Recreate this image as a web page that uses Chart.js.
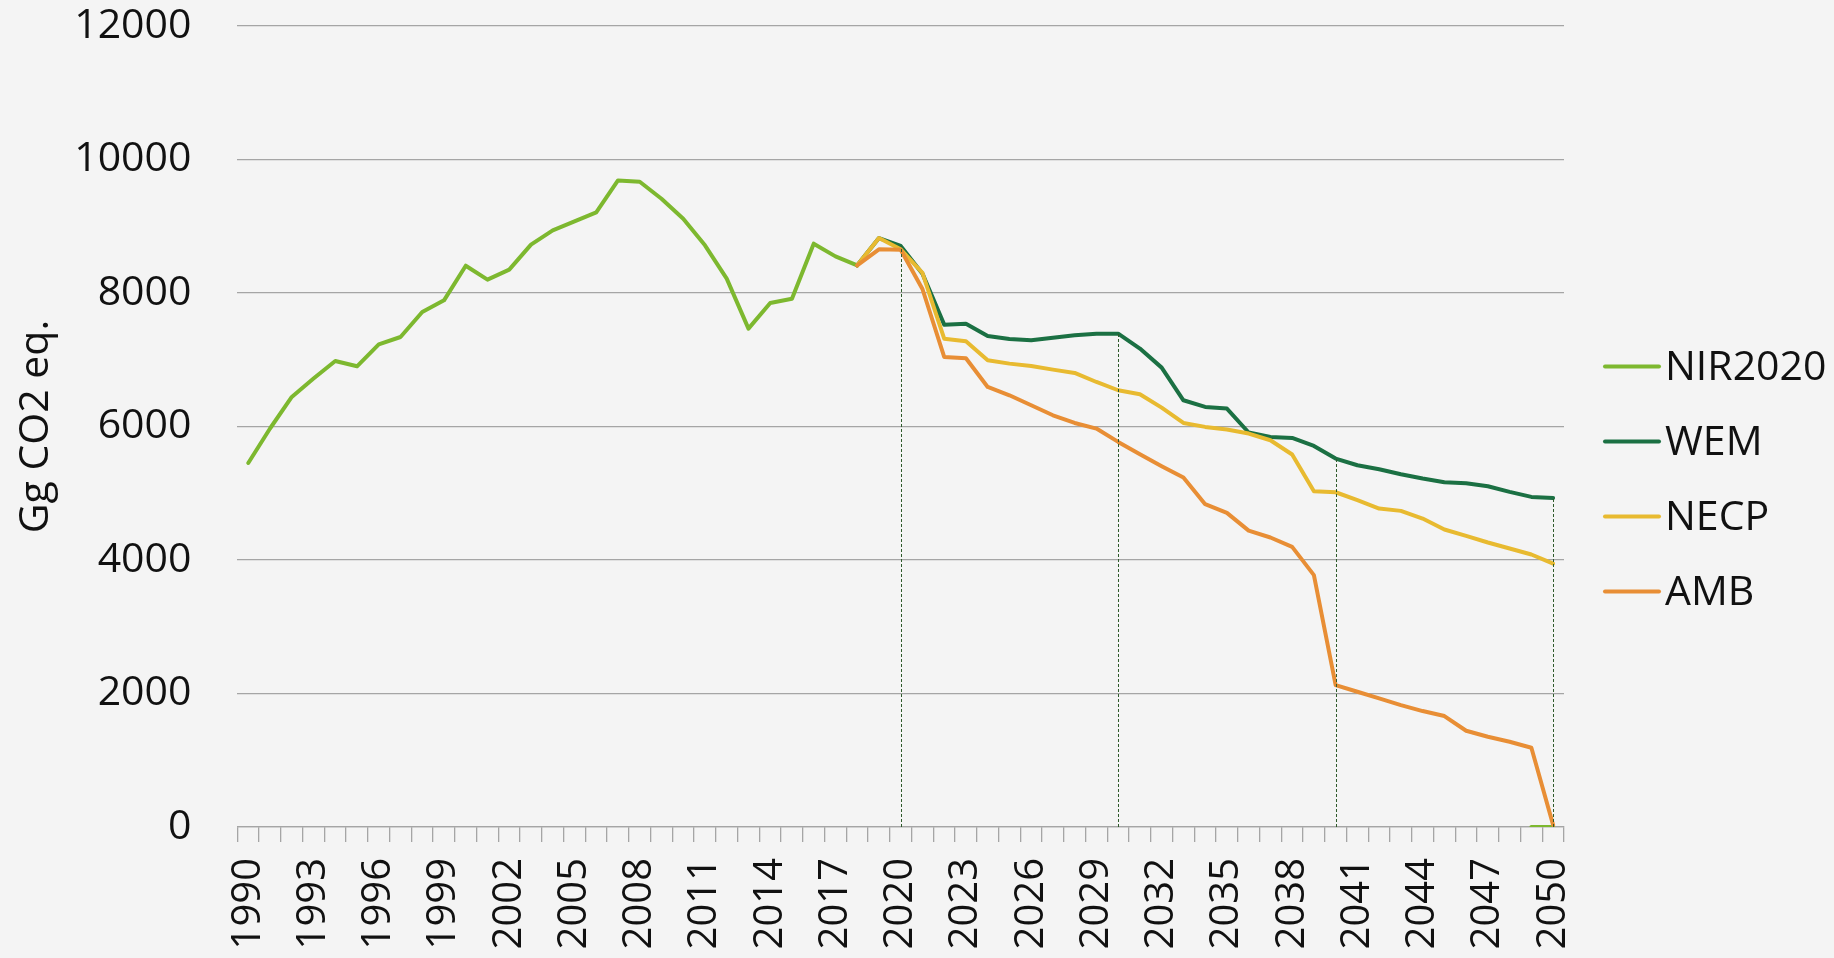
<!DOCTYPE html>
<html>
<head>
<meta charset="utf-8">
<script src="https://cdn.jsdelivr.net/npm/chart.js@4/dist/chart.umd.min.js"></script>
<style>
  html, body { margin: 0; padding: 0; background: #F4F4F4; }
  #wrap { width: 1834px; height: 958px; position: relative; }
</style>
</head>
<body>
<div id="wrap"><canvas id="c" width="1834" height="958"></canvas></div>
<script>
// ---- data ----
const years = ['1990','1991','1992','1993','1994','1995','1996','1997','1998','1999',
  '2000','2001','2002','2003','2004','2005','2006','2007','2008','2009',
  '2010','2011','2012','2013','2014','2015','2016','2017','2018','2019',
  '2020','2021','2022','2023','2024','2025','2026','2027','2028','2029',
  '2030','2031','2032','2033','2034','2035','2036','2037','2038','2039',
  '2040','2041','2042','2043','2044','2045','2046','2047','2048','2049','2050'];

const xTickLabels = ['1990','1993','1996','1999','2002','2005','2008','2011','2014','2017',
  '2020','2023','2026','2029','2032','2035','2038','2041','2044','2047','2050'];

const yTicks = [0, 2000, 4000, 6000, 8000, 10000, 12000];

// NIR2020: historical 1990-2018, plus two points at 2049-2050
const nirHistory = [5454, 5970, 6443, 6718, 6982, 6902, 7231, 7341, 7715, 7890,
  8409, 8200, 8350, 8724, 8938, 9073, 9208, 9687, 9667, 9412,
  9113, 8714, 8215, 7466, 7850, 7915, 8739, 8549, 8414];
const nirTail = [0, 0]; // 2049, 2050

// projections 2018-2050
const wem = [8414, 8823, 8705, 8290, 7526, 7541, 7356, 7311, 7291, 7331,
  7366, 7391, 7391, 7167, 6882, 6393, 6293, 6268, 5910, 5844,
  5829, 5709, 5520, 5420, 5360, 5285, 5220, 5165, 5150, 5105,
  5020, 4945, 4930];
const necp = [8414, 8823, 8655, 8300, 7316, 7276, 6992, 6942, 6907, 6852,
  6802, 6667, 6543, 6483, 6283, 6053, 5994, 5954, 5894, 5794,
  5580, 5030, 5015, 4896, 4771, 4736, 4621, 4457, 4362, 4262,
  4172, 4082, 3947];
const amb = [8414, 8654, 8649, 8060, 7042, 7022, 6593, 6468, 6318, 6168,
  6053, 5969, 5769, 5584, 5405, 5235, 4836, 4706, 4440, 4337,
  4197, 3773, 2126, 2026, 1926, 1826, 1737, 1662, 1442, 1352,
  1277, 1188, 30];

const dropYears = ['2020', '2030', '2040', '2050'];

const seriesNames = ['NIR2020', 'WEM', 'NECP', 'AMB'];
const seriesColors = ['#7DB82F', '#1B7043', '#E8BA30', '#E88E35'];

// ---- build full-length series aligned with years ----
function nulls(n) { return Array(n).fill(null); }
const projStart = years.indexOf('2018');
const nirData = nirHistory.concat(nulls(years.length - nirHistory.length - nirTail.length), nirTail);
const wemData = nulls(projStart).concat(wem);
const necpData = nulls(projStart).concat(necp);
const ambData = nulls(projStart).concat(amb);
const allData = [nirData, wemData, necpData, ambData];

const FONT = '"Open Sans", "Noto Sans", sans-serif';

const bgPlugin = {
  id: 'bg',
  beforeDraw(chart) {
    const ctx = chart.ctx;
    ctx.save();
    ctx.fillStyle = '#F4F4F4';
    ctx.fillRect(0, 0, chart.width, chart.height);
    ctx.restore();
  }
};

const dropLines = {
  id: 'dropLines',
  afterDatasetsDraw(chart) {
    const ctx = chart.ctx;
    const xs = chart.scales.x, ys = chart.scales.y;
    ctx.save();
    ctx.strokeStyle = '#2E5A2A';
    ctx.lineWidth = 1;
    ctx.setLineDash([3, 2]);
    dropYears.forEach(yr => {
      const i = years.indexOf(yr);
      let top = null;
      allData.forEach(d => { if (d[i] != null && (top === null || d[i] > top)) top = d[i]; });
      if (top === null) return;
      const x = Math.round(xs.getPixelForValue(i)) + 0.5;
      ctx.beginPath();
      ctx.moveTo(x, ys.getPixelForValue(0));
      ctx.lineTo(x, ys.getPixelForValue(top));
      ctx.stroke();
    });
    ctx.restore();
  }
};

const legendPlugin = {
  id: 'customLegend',
  afterDraw(chart) {
    const ctx = chart.ctx;
    const area = chart.chartArea;
    const x0 = area.right + 41;
    const lineLen = 54;
    const gap = 75;
    const cy = chart.height / 2;
    const n = seriesNames.length;
    ctx.save();
    ctx.font = '41px ' + FONT;
    ctx.textBaseline = 'middle';
    ctx.textAlign = 'left';
    seriesNames.forEach((name, k) => {
      const y = cy + (k - (n - 1) / 2) * gap;
      ctx.strokeStyle = seriesColors[k];
      ctx.lineWidth = 4;
      ctx.lineCap = 'round';
      ctx.beginPath();
      ctx.moveTo(x0, y);
      ctx.lineTo(x0 + lineLen, y);
      ctx.stroke();
      ctx.fillStyle = '#111111';
      ctx.fillText(name, x0 + lineLen + 6, y + 2);
    });
    ctx.restore();
  }
};

new Chart(document.getElementById('c'), {
  type: 'line',
  data: {
    labels: years,
    datasets: seriesNames.map((name, k) => ({
      label: name,
      data: allData[k],
      borderColor: seriesColors[k],
      backgroundColor: seriesColors[k],
      borderWidth: 4,
      pointRadius: 0,
      pointHoverRadius: 0,
      tension: 0,
      spanGaps: false,
      borderJoinStyle: 'round',
      borderCapStyle: 'round',
      order: seriesNames.length - k
    }))
  },
  options: {
    responsive: false,
    animation: false,
    events: [],
    layout: { padding: { left: 0, right: 270, top: 26, bottom: 0 } },
    plugins: {
      legend: { display: false },
      tooltip: { enabled: false }
    },
    scales: {
      x: {
        type: 'category',
        offset: true,
        grid: {
          offset: true,
          drawOnChartArea: false,
          drawTicks: true,
          tickLength: 15,
          color: '#A5A5A5',
          lineWidth: 1.3
        },
        border: { display: true, color: '#A5A5A5', width: 1.3 },
        ticks: {
          autoSkip: false,
          minRotation: 90,
          maxRotation: 90,
          padding: 16,
          color: '#111111',
          font: { family: FONT, size: 40 },
          callback: function(val, idx) {
            const lab = years[idx];
            return xTickLabels.includes(lab) ? lab : '';
          }
        },
        afterFit(scale) { scale.height = 131; }
      },
      y: {
        min: 0,
        max: 12000,
        afterBuildTicks(scale) { scale.ticks = yTicks.map(v => ({ value: v })); },
        grid: { color: '#A5A5A5', lineWidth: 1.3, drawTicks: false },
        border: { display: false },
        ticks: {
          padding: 46,
          color: '#111111',
          font: { family: FONT, size: 41 },
          callback: function(v) { return String(v); }
        },
        title: {
          display: true,
          text: 'Gg CO2 eq.',
          color: '#111111',
          font: { family: FONT, size: 41 },
          padding: { top: 12, bottom: 0 }
        },
        afterFit(scale) {
          scale.width = 237.4;
          scale.paddingTop = 0;
          scale.paddingBottom = 0;
        }
      }
    }
  },
  plugins: [bgPlugin, dropLines, legendPlugin]
});
</script>
</body>
</html>
